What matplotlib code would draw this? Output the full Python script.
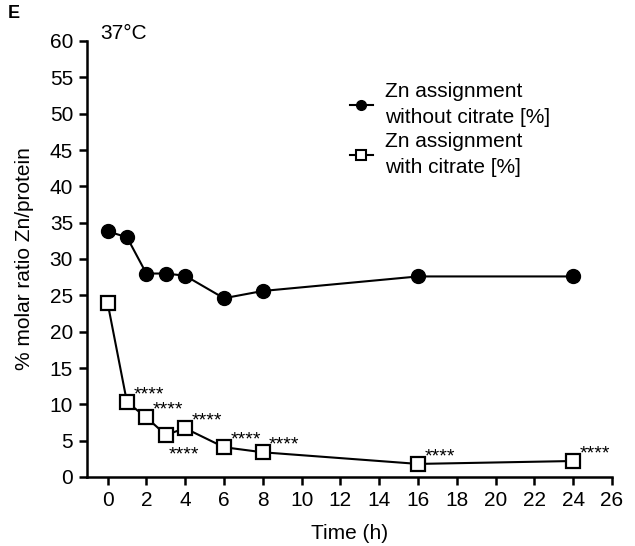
import matplotlib.pyplot as plt
from matplotlib.lines import Line2D

plt.rcParams['font.family'] = ['Liberation Sans', 'DejaVu Sans']

# datos
tiempo = [0, 1, 2, 3, 4, 6, 8, 16, 24]
sin_citrato = [33.8, 33.0, 28.0, 28.0, 27.7, 24.6, 25.6, 27.6, 27.6]
con_citrato = [24.0, 10.3, 8.2, 5.8, 6.7, 4.1, 3.4, 1.8, 2.2]
estrellas_abajo = [3]  # puntos con los asteriscos debajo
etiquetas = ['Zn assignment\nwithout citrate [%]', 'Zn assignment\nwith citrate [%]']

fs = 15

fig = plt.figure(figsize=(6.35, 5.46), dpi=100)
ax = fig.add_axes([87 / 635, 69 / 546, 525 / 635, 436 / 546])

ax.plot(tiempo, sin_citrato, '-o', color='black', lw=1.5, ms=10)
ax.plot(tiempo, con_citrato, '-s', color='black', lw=1.5, ms=10.5,
        mfc='white', mew=1.6)

for t, v in zip(tiempo[1:], con_citrato[1:]):
    if t in estrellas_abajo:
        ax.annotate('****', (t, v), xytext=(2, -18), textcoords='offset points',
                    fontsize=14, ha='left', va='baseline')
    else:
        ax.annotate('****', (t, v), xytext=(4.5, 2), textcoords='offset points',
                    fontsize=14, ha='left', va='baseline')

ax.set_xlim(-1.06, 26)
ax.set_ylim(0, 60)
ax.set_xticks(range(0, 27, 2))
ax.set_yticks(range(0, 61, 5))
ax.spines['top'].set_visible(False)
ax.spines['right'].set_visible(False)
ax.spines['left'].set_linewidth(1.8)
ax.spines['bottom'].set_linewidth(1.8)
ax.tick_params(direction='out', length=6, width=1.8, labelsize=fs, pad=4)
ax.set_xlabel('Time (h)', fontsize=fs, labelpad=10)
ax.set_ylabel('% molar ratio Zn/protein', fontsize=fs, labelpad=11)

ax.text(0.025, 1.018, '37°C', transform=ax.transAxes, fontsize=fs, va='center')
fig.text(8 / 635, 1 - 14 / 546, 'E', fontsize=13, fontweight='bold', va='center')

# leyenda
h1 = Line2D([], [], color='black', lw=1.5, marker='o', ms=7)
h2 = Line2D([], [], color='black', lw=1.5, marker='s', ms=7.5, mfc='white', mew=1.5)
leg = ax.legend([h1, h2], etiquetas, loc='upper left', bbox_to_anchor=(0.501, 0.905),
                frameon=False, fontsize=fs, handlelength=1.1, handletextpad=0.6,
                labelspacing=0.25, borderpad=0, borderaxespad=0)
for txt in leg.get_texts():
    txt.set_linespacing(1.45)

fig.savefig('out.png', dpi=100)
